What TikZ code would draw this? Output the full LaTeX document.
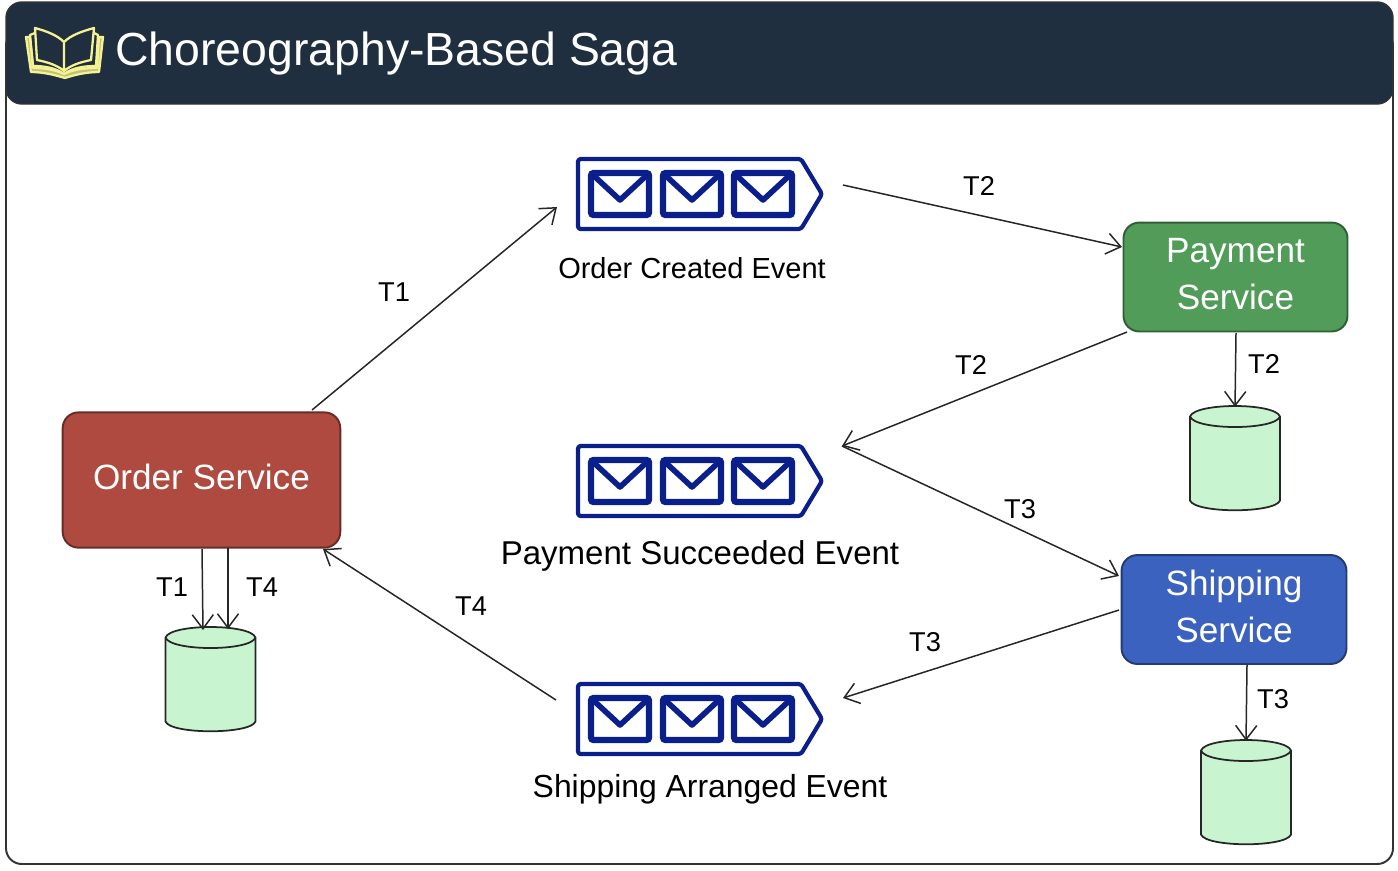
\documentclass[tikz,border=0pt]{standalone}
\usepackage{fontspec}
\setmainfont{Liberation Sans}
\usetikzlibrary{arrows.meta,positioning}
\definecolor{headbg}{HTML}{1F2F3F}
\definecolor{bookcol}{HTML}{F6F191}
\definecolor{queuecol}{HTML}{0B1F8C}
\definecolor{dbfill}{HTML}{C8F5D0}
\definecolor{orderfill}{HTML}{AE4A3F}
\definecolor{payfill}{HTML}{529C59}
\definecolor{shipfill}{HTML}{3B62BE}

\tikzset{
    service/.style={rectangle, draw=#1!60!black, fill=#1, rounded corners=9pt, line width=1.1pt,
        text=white, align=center, text depth=3.4pt, font=\fontsize{20}{26.6}\selectfont},
    database/.style={rectangle, inner sep=0pt, minimum width=51.5pt, minimum height=58.5pt},
    arrow/.style={line width=0.85pt, draw=black!85, ->, >={Straight Barb[length=8pt,width=12pt]}},
    tag/.style={font=\fontsize{15.5}{18}\selectfont, text=black},
    event/.style={text=black},
    envelope/.pic={
        \draw[queuecol, line width=3.6pt, rounded corners=1.5pt] (-29,-21) rectangle (29,21);
        \draw[queuecol, line width=3.2pt, line join=round] (-27,-19) -- (0,6) -- (27,-19);
    },
    queue/.pic={
        \draw[queuecol, line width=2.4pt, line join=round, rounded corners=1.5pt]
            (-121,-35) -- (102,-35) -- (123,0) -- (102,35) -- (-121,35) -- cycle;
        \pic at (-79,0) {envelope};
        \pic at (-7,0) {envelope};
        \pic at (64,0) {envelope};
    },
    can/.pic={
        \draw[black!85, fill=dbfill, line width=1pt] (-45,-42) -- (-45,42)
            .. controls (-40,55) and (40,55) .. (45,42) -- (45,-42)
            .. controls (40,-56) and (-40,-56) .. (-45,-42) -- cycle;
        \draw[black!85, line width=1pt] (-45,-42) .. controls (-40,-28) and (40,-28) .. (45,-42);
    }
}

\begin{document}
\begin{tikzpicture}[x=0.02cm, y=-0.02cm]
\useasboundingbox (0,0) rectangle (1398,870);

% frame and header
\draw[black!80, line width=1.1pt, rounded corners=9pt] (6,30) rectangle (1393,864);
\draw[black!80, fill=headbg, line width=0.8pt, rounded corners=9pt] (6,2) rectangle (1393,104);
\node[font=\fontsize{26.4}{30}\selectfont, text=white, anchor=west, inner sep=0pt] (title) at (115,53) {Choreography-Based Saga};

% book
\draw[bookcol, line width=1.3pt, line join=round]
    (64,42) .. controls (57,35) and (46,31) .. (35,28) -- (37,60) .. controls (47,62) and (57,65) .. (64,71)
    .. controls (71,65) and (81,62) .. (91,60) -- (94,28) .. controls (83,31) and (71,35) .. (64,42) -- (64,71);
\draw[bookcol, line width=1.3pt, line join=round]
    (35,33) -- (30,35) -- (33,66) .. controls (45,66) and (56,68) .. (64,74)
    .. controls (72,68) and (83,66) .. (96,66) -- (98,35) -- (94,33);
\draw[bookcol, fill=bookcol!75!headbg, line width=1.3pt, line join=round]
    (26,37) -- (30,37) -- (33,68) .. controls (45,68) and (56,70) .. (64,74)
    .. controls (72,70) and (83,68) .. (97,68) -- (99,37) -- (103,37) -- (99,72)
    .. controls (86,72) and (74,75) .. (65,78) .. controls (55,75) and (43,72) .. (31,72) -- cycle;

% services
\node[service=orderfill, minimum width=158pt, minimum height=77pt] (order) at (201.5,480) {Order Service};
\node[service=payfill, minimum width=127.5pt, minimum height=62pt] (payment) at (1235.5,277) {Payment\\Service};
\node[service=shipfill, minimum width=128pt, minimum height=62pt] (shipping) at (1234,609.5) {Shipping\\Service};

% event queues
\pic at (699,194) {queue};
\pic at (699,481) {queue};
\pic at (699,719) {queue};
\node[event, font=\fontsize{16.5}{20}\selectfont] (createdlabel) at (692,268) {Order Created Event};
\node[event, font=\fontsize{18.8}{22}\selectfont] (succeededlabel) at (700,556) {Payment Succeeded Event};
\node[event, font=\fontsize{18.15}{21}\selectfont] (arrangedlabel) at (710,789) {Shipping Arranged Event};

% databases
\node[database] (orderdb) at (210.5,679.5) {};
\node[database] (paydb) at (1235,458.5) {};
\node[database] (shipdb) at (1246,792.5) {};
\pic at (orderdb) {can};
\pic at (paydb) {can};
\pic at (shipdb) {can};

% free ends of the connectors
\coordinate (createdin) at (557,207);
\coordinate (createdout) at (843,185);
\coordinate (succeeded) at (842,446);
\coordinate (arrangedin) at (843,698);
\coordinate (arrangedout) at (556,700);
\coordinate (orderout) at (312,410);
\coordinate (orderin) at (323,549);
\coordinate (paywest) at (1122,247);
\coordinate (paysouth) at (1127,332);
\coordinate (shipin) at (1119,576);
\coordinate (shipout) at (1119,610);
\coordinate (orderT1) at (202,549);
\coordinate (orderdbT1) at (203,630);
\coordinate (orderT4) at (228,548);
\coordinate (orderdbT4) at (228,629);
\coordinate (payT2) at (1236,333);
\coordinate (shipT3) at (1247,665);

\draw[arrow] (orderout) -- (createdin);
\draw[arrow] (createdout) -- (paywest);
\draw[arrow] (paysouth) -- (succeeded);
\draw[arrow] (succeeded) -- (shipin);
\draw[arrow] (shipout) -- (arrangedin);
\draw[arrow] (arrangedout) -- (orderin);
\draw[arrow] (orderT1) -- (orderdbT1);
\draw[arrow] (orderT4) -- (orderdbT4);
\draw[arrow] (payT2) -- (paydb.north);
\draw[arrow] (shipT3) -- (shipdb.north);

% transaction labels
\node[tag] (t1a) at (394,292) {T1};
\node[tag] (t2a) at (979,186) {T2};
\node[tag] (t2b) at (971,365) {T2};
\node[tag] (t2c) at (1264,364) {T2};
\node[tag] (t3a) at (1020,509) {T3};
\node[tag] (t3b) at (925,642) {T3};
\node[tag] (t3c) at (1273,699) {T3};
\node[tag] (t4a) at (471,606) {T4};
\node[tag] (t1b) at (172,587) {T1};
\node[tag] (t4b) at (262,587) {T4};
\end{tikzpicture}
\end{document}
